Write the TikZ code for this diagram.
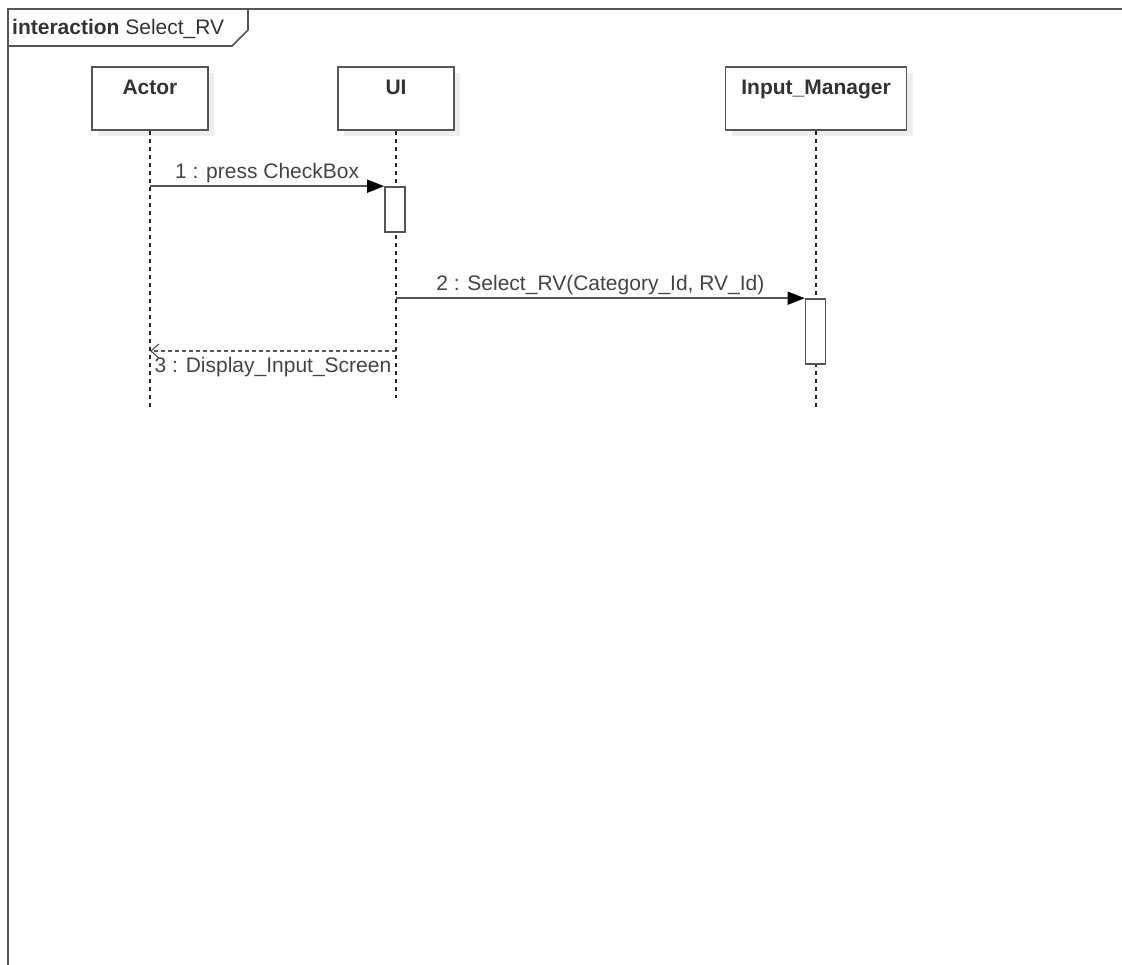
\documentclass[tikz,border=0pt]{standalone}
\usepackage{fontspec}
\setmainfont{Liberation Sans}
\usetikzlibrary{arrows.meta, positioning, shadows}

\definecolor{umlline}{HTML}{555555}
\definecolor{umltext}{HTML}{444444}

\begin{document}
\begin{tikzpicture}[
    x=1pt, y=-1pt,
    participant/.style={
        draw=umlline,
        line width=1.6pt,
        fill=white,
        minimum width=116pt,
        minimum height=63pt,
        text height=15pt,
        text depth=23pt,
        font=\fontsize{21}{25}\selectfont\bfseries,
        text=black!80,
        drop shadow={shadow xshift=6pt, shadow yshift=-6pt, fill=black!7, opacity=1},
    },
    lifeline/.style={
        draw=black!85,
        line width=1.8pt,
        dash pattern=on 4pt off 4pt,
    },
    activation/.style={
        draw=umlline,
        line width=1.6pt,
        fill=white,
        minimum width=20pt,
        inner sep=0pt,
    },
    call/.style={
        draw=umlline,
        line width=1.5pt,
        -{Triangle[length=17pt, width=13pt, color=black]},
    },
    reply/.style={
        draw=umlline,
        line width=1.4pt,
        dash pattern=on 4pt off 3pt,
        -{Straight Barb[length=8pt, width=14pt, line width=1.2pt]},
    },
    msglabel/.style={
        font=\fontsize{21}{25}\selectfont,
        text=umltext,
        inner sep=2pt,
    }
]
    \useasboundingbox (0,0) rectangle (1122,965);

    % Frame
    \draw[umlline, line width=2pt] (8,965) -- (8,9) -- (1122,9);
    \node[anchor=base west, msglabel, text=black!80] (title) at (10,35)
        {\textbf{interaction} Select\_RV};
    \draw[umlline, line width=1.6pt] (8,46) -- (232,46) -- (248,30) -- (248,9);

    % Participants
    \node[participant] (actor) at (150,98.5) {Actor};
    \node[participant] (ui) at (396,98.5) {UI};
    \node[participant, minimum width=181pt] (inputmgr) at (816,98.5) {Input\_Manager};

    % Lifelines
    \coordinate (actor end) at (actor.south |- 0,408);
    \coordinate (ui end) at (ui.south |- 0,398);
    \coordinate (inputmgr end) at (inputmgr.south |- 0,408);
    \draw[lifeline] (actor.south) -- (actor end);
    \draw[lifeline] (ui.south) -- (ui end);
    \draw[lifeline] (inputmgr.south) -- (inputmgr end);

    % Activations
    \node[activation, minimum height=45pt] (ui act) at (395,209.5) {};
    \node[activation, minimum height=65pt] (inputmgr act) at (815.5,331.5) {};

    % Messages
    \draw[call] (ui act.north west -| actor.south) -- (ui act.north west)
        node[msglabel, midway, above=1pt] {1 : press CheckBox};
    \draw[call] (inputmgr act.north west -| ui.south) -- (inputmgr act.north west)
        node[msglabel, midway, above=1pt] {2 : Select\_RV(Category\_Id, RV\_Id)};
    \coordinate (reply start) at (ui.south |- 0,351);
    \draw[reply] (reply start) -- (reply start -| actor.south)
        node[msglabel, midway, below=4pt] {3 : Display\_Input\_Screen};
\end{tikzpicture}
\end{document}
